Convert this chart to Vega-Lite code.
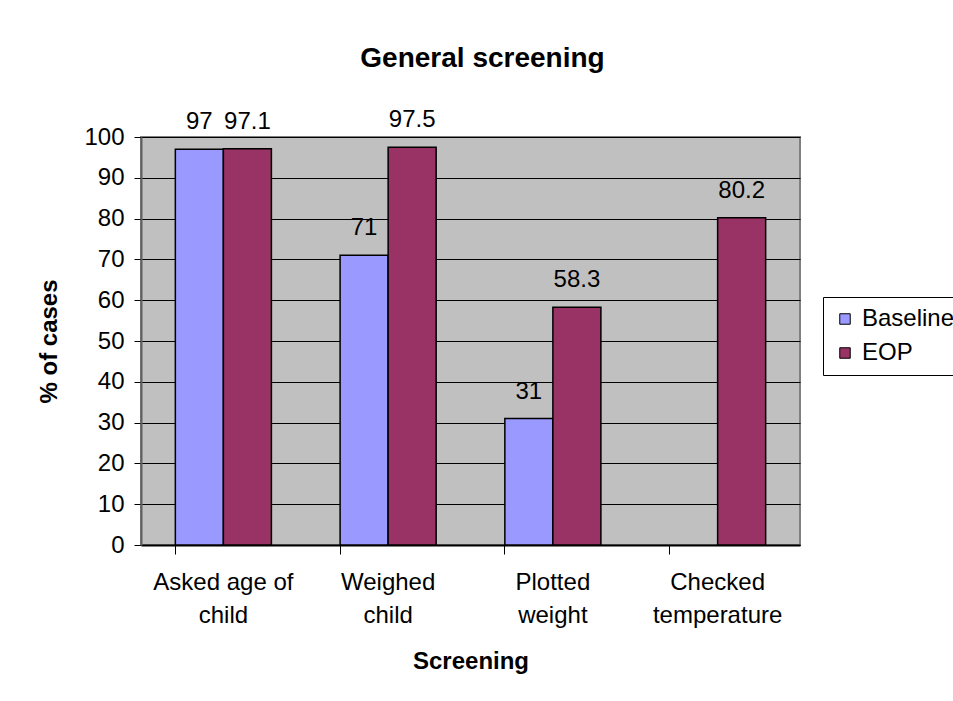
{
  "$schema": "https://vega.github.io/schema/vega-lite/v6.json",
  "autosize": {"type": "none"},
  "width": 659,
  "height": 408,
  "padding": {"left": 141, "top": 137, "right": 153, "bottom": 156},
  "background": "white",
  "config": {
    "font": "Liberation Sans",
    "view": {"fill": "#C0C0C0", "stroke": "#808080", "strokeWidth": 2}
  },
  "title": {
    "text": "General screening",
    "fontSize": 28,
    "fontWeight": "bold",
    "font": "Liberation Sans",
    "color": "black",
    "anchor": "middle",
    "offset": 35,
    "dx": 12
  },
  "data": {
    "values": [
      {"category": "Asked age of child", "series": "Baseline", "value": 97},
      {"category": "Asked age of child", "series": "EOP", "value": 97.1},
      {"category": "Weighed child", "series": "Baseline", "value": 71},
      {"category": "Weighed child", "series": "EOP", "value": 97.5},
      {"category": "Plotted weight", "series": "Baseline", "value": 31},
      {"category": "Plotted weight", "series": "EOP", "value": 58.3},
      {"category": "Checked temperature", "series": "EOP", "value": 80.2}
    ]
  },
  "encoding": {
    "x": {
      "field": "category",
      "type": "nominal",
      "sort": ["Asked age of child", "Weighed child", "Plotted weight", "Checked temperature"],
      "scale": {"paddingInner": 0.417, "paddingOuter": 0.2085},
      "axis": {
        "title": "Screening",
        "titleFontSize": 24,
        "titleFontWeight": "bold",
        "titleColor": "black",
        "titlePadding": 22,
        "labelAngle": 0,
        "labelFontSize": 24,
        "labelColor": "black",
        "labelLineHeight": 33,
        "labelPadding": 16,
        "labelExpr": "datum.value == 'Asked age of child' ? ['Asked age of', 'child'] : split(datum.value, ' ')",
        "bandPosition": 0,
        "tickSize": 9,
        "tickColor": "black",
        "domainColor": "black",
        "domainWidth": 2,
        "grid": false
      }
    },
    "xOffset": {
      "field": "series",
      "type": "nominal",
      "sort": ["Baseline", "EOP"],
      "scale": {"domain": ["Baseline", "EOP"], "paddingInner": 0, "paddingOuter": 0}
    },
    "y": {
      "field": "value",
      "type": "quantitative",
      "scale": {"domain": [0, 100], "nice": false},
      "axis": {
        "title": "% of cases",
        "titleFontSize": 24,
        "titleFontWeight": "bold",
        "titleColor": "black",
        "titlePadding": 22,
        "values": [0, 10, 20, 30, 40, 50, 60, 70, 80, 90, 100],
        "labelFontSize": 24,
        "labelColor": "black",
        "labelPadding": 10,
        "tickSize": 7,
        "tickColor": "black",
        "domainColor": "#606060",
        "domainWidth": 2,
        "grid": true,
        "gridColor": "black",
        "gridWidth": 1,
        "gridOpacity": 1
      }
    }
  },
  "layer": [
    {
      "mark": {"type": "bar", "stroke": "black", "strokeWidth": 1.5},
      "encoding": {
        "color": {
          "field": "series",
          "type": "nominal",
          "scale": {"domain": ["Baseline", "EOP"], "range": ["#9999FF", "#993366"]},
          "legend": {
            "title": null,
            "orient": "none",
            "legendX": 682,
            "legendY": 160,
            "symbolType": "square",
            "symbolSize": 110,
            "symbolStrokeColor": "black",
            "symbolStrokeWidth": 1,
            "labelFontSize": 24,
            "labelColor": "black",
            "labelOffset": 5,
            "rowPadding": 10,
            "padding": 10,
            "strokeColor": "black",
            "fillColor": "white"
          }
        }
      }
    },
    {
      "mark": {"type": "text", "baseline": "alphabetic", "dy": -20, "fontSize": 24, "color": "black"},
      "encoding": {
        "text": {"field": "value", "type": "quantitative"}
      }
    }
  ]
}
